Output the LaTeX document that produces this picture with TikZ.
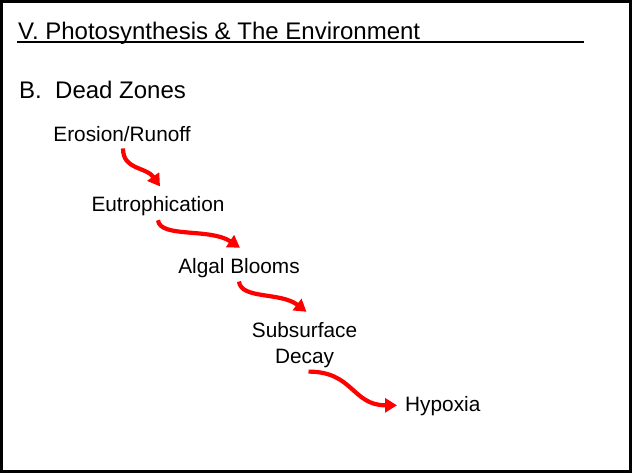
\documentclass[tikz,border=0pt]{standalone}
\usepackage{fontspec}
\setmainfont{Liberation Sans}
\usetikzlibrary{arrows.meta}

\tikzset{
	stage/.style={font=\fontsize{20.8}{26}\selectfont, inner xsep=2pt, inner ysep=4pt, align=center},
	redarrow/.style={draw=red, line width=4.2pt, -{Triangle[length=12pt,width=14pt]}}
}

\begin{document}
\begin{tikzpicture}[x=1pt,y=-1pt]
	\useasboundingbox (0,0) rectangle (634,475);
	\draw[line width=3pt] (1.5,1.5) rectangle (630.5,471.5);
	
	\node[anchor=base west, inner sep=0pt, font=\fontsize{24}{28}\selectfont] (title) at (18,39) {V. Photosynthesis \& The Environment};
	\draw[line width=1.6pt] (17,42) -- (584,42);
	\node[anchor=base west, inner sep=0pt, font=\fontsize{24}{28}\selectfont] (sub) at (19,98.5) {B.\ \ Dead Zones};
	
	\node[stage, anchor=base] (eros) at (122,141) {Erosion/Runoff};
	\node[stage, anchor=base] (eutro) at (158,211.7) {Eutrophication};
	\node[stage, anchor=base] (algal) at (239,273) {Algal Blooms};
	\node[stage, anchor=north] (subs) at (304.5,317.8) {Subsurface\\Decay};
	\node[stage, anchor=base west] (hyp) at (403,411.7) {Hypoxia};
	
	\draw[redarrow] ([shift={(1,3)}]eros.south) .. controls +(0,22) and +(-14,-20) .. ([shift={(2,-6)}]eutro.north);
	\draw[redarrow] (eutro.south) .. controls +(2,18) and +(-30,-20) .. ([shift={(1,-6)}]algal.north);
	\draw[redarrow] (algal.south) .. controls +(2,18) and +(-26,-20) .. ([shift={(2,-6)}]subs.north);
	\draw[redarrow] ([shift={(4,0)}]subs.south) .. controls +(45,0) and +(-45,0) .. ([shift={(-6,-1)}]hyp.west);
\end{tikzpicture}
\end{document}
